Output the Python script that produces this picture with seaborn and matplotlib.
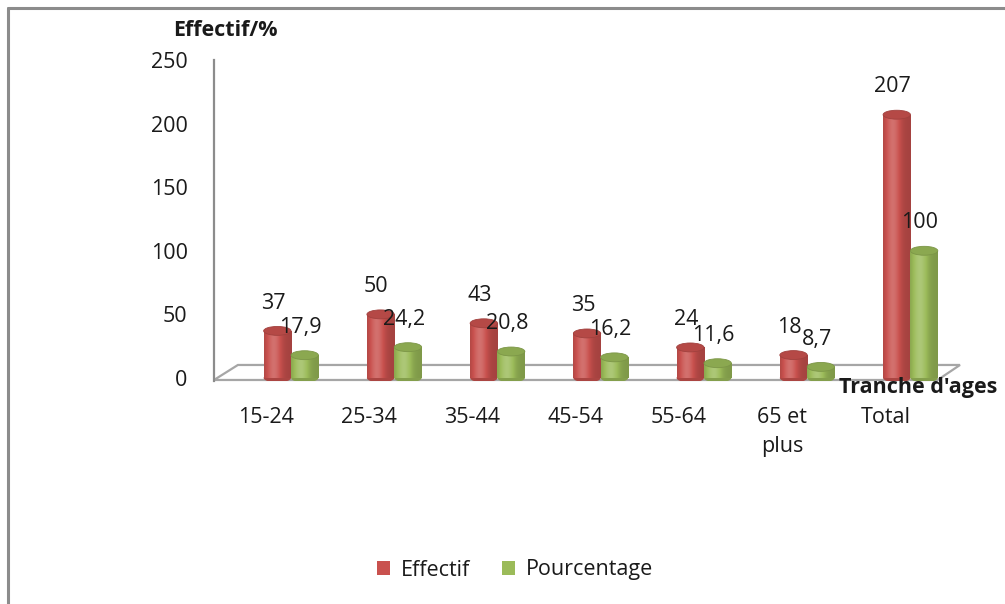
import numpy as np
import pandas as pd
import matplotlib
matplotlib.use("Agg")
import matplotlib.pyplot as plt
import matplotlib.transforms as mtrans
from matplotlib.patches import Ellipse, Polygon, Patch
from matplotlib.lines import Line2D
import matplotlib.colors as mcolors
import seaborn as sns

# ---------------- data ----------------
categories = ["15-24", "25-34", "35-44", "45-54", "55-64", "65 et\nplus", "Total"]
effectif = [37, 50, 43, 35, 24, 18, 207]
pourcentage = [17.9, 24.2, 20.8, 16.2, 11.6, 8.7, 100]
labels_eff = ["37", "50", "43", "35", "24", "18", "207"]
labels_pct = ["17,9", "24,2", "20,8", "16,2", "11,6", "8,7", "100"]
series = ["Effectif", "Pourcentage"]
yticks = [0, 50, 100, 150, 200, 250]

df = pd.DataFrame({
    "Tranche": categories * 2,
    "Valeur": effectif + pourcentage,
    "Serie": [series[0]] * len(categories) + [series[1]] * len(categories),
})

red = "#C9514E"
green = "#9BBB59"
colors = [red, green]

sns.set_theme(style="white")
plt.rcParams["font.family"] = ["Open Sans", "DejaVu Sans"]
txt = "#1a1a1a"
fs = 15.5

fig = plt.figure(figsize=(10.05, 6.04), dpi=100)
ax = fig.add_axes([214 / 1005, (604 - 381) / 604, 746 / 1005, 321 / 604])

sns.barplot(data=df, x="Tranche", y="Valeur", hue="Serie", palette=colors,
            width=0.53, gap=0, ax=ax, legend=False, saturation=1,
            errorbar=None, edgecolor="none", zorder=3)

ax.set_xlim(-0.746, 6.48)
ax.set_ylim(-2.4, 250)

# floor of the 3D chart (decoration)
blend = mtrans.blended_transform_factory(ax.transAxes, ax.transData)
floor = Polygon([(0, -1.6), (0.97, -1.6), (1.0, 10.2), (0.032, 10.2)],
                closed=True, transform=blend, facecolor="white",
                edgecolor="#a6a6a6", lw=1.6, zorder=1, clip_on=False)
ax.add_patch(floor)

eh = 7.0  # ellipse height in data units (cylinder look)

def shade(c, f):
    r, g, b = mcolors.to_rgb(c)
    if f >= 1:
        return (r + (1 - r) * (f - 1), g + (1 - g) * (f - 1), b + (1 - b) * (f - 1))
    return (r * f, g * f, b * f)

for ci, cont in enumerate(ax.containers):
    base = colors[ci]
    xs = np.linspace(0, 1, 64)
    prof = 0.82 + 0.36 * np.exp(-((xs - 0.35) / 0.28) ** 2)
    grad = np.array([[shade(base, p) for p in prof]])
    labs = labels_eff if ci == 0 else labels_pct
    for bi, rect in enumerate(cont.patches):
        x0, y0 = rect.get_x(), rect.get_y()
        w, h = rect.get_width(), rect.get_height()
        ax.add_patch(Ellipse((x0 + w / 2, y0), w, eh, facecolor=shade(base, 0.85),
                             edgecolor="none", zorder=2.9))
        im = ax.imshow(grad, extent=[x0, x0 + w, y0, y0 + h], aspect="auto",
                       origin="lower", zorder=3.1, interpolation="bilinear")
        im.set_clip_path(rect)
        ax.add_patch(Ellipse((x0 + w / 2, y0 + h), w, eh, facecolor=shade(base, 0.9),
                             edgecolor=shade(base, 0.8), lw=0.6, zorder=3.3))
        ax.annotate(labs[bi], (x0 + w / 2, y0 + h), xytext=(-3, 20),
                    textcoords="offset points", ha="center", va="center",
                    fontsize=fs, color=txt, zorder=5)

ax.set_xlim(-0.746, 6.48)
ax.set_ylim(-2.4, 250)

ax.set_xlabel("")
ax.set_ylabel("")
ax.set_yticks(yticks)
ax.set_yticklabels([str(v) for v in yticks])
ax.tick_params(axis="y", length=0, pad=19, labelsize=fs, labelcolor=txt)
ax.tick_params(axis="x", length=0, pad=19, labelsize=fs, labelcolor=txt)
offset = mtrans.ScaledTranslation(-25 / 100, 0, fig.dpi_scale_trans)
for lab in ax.get_xticklabels():
    lab.set_transform(lab.get_transform() + offset)
    lab.set_linespacing(1.5)

for s in ["top", "right", "bottom"]:
    ax.spines[s].set_visible(False)
ax.spines["left"].set_color("#8c8c8c")
ax.spines["left"].set_linewidth(1.6)
ax.set_facecolor("none")
ax.grid(False)

# titles
fig.text(225 / 1005, 1 - 30 / 604, "Effectif/%", ha="center", va="center",
         fontsize=15.5, fontweight="bold", color=txt)
fig.text(839 / 1005, 1 - 388 / 604, "Tranche d'ages", ha="left", va="center",
         fontsize=15.5, fontweight="bold", color=txt)

# legend
handles = [Patch(facecolor=c, edgecolor="none") for c in colors]
fig.legend(handles, series, loc="center", bbox_to_anchor=(515 / 1005, 1 - 570 / 604),
           ncol=2, frameon=False, fontsize=fs, handlelength=0.6, handleheight=0.6,
           columnspacing=1.5, handletextpad=0.5, labelcolor=txt)

# outer frame (left & top)
fig.add_artist(Line2D([8 / 1005, 8 / 1005], [0, 1 - 8 / 604], color="#8c8c8c", lw=2.2))
fig.add_artist(Line2D([8 / 1005, 1], [1 - 8 / 604, 1 - 8 / 604], color="#8c8c8c", lw=2.2))

fig.savefig("out.png", dpi=100, facecolor="white")
